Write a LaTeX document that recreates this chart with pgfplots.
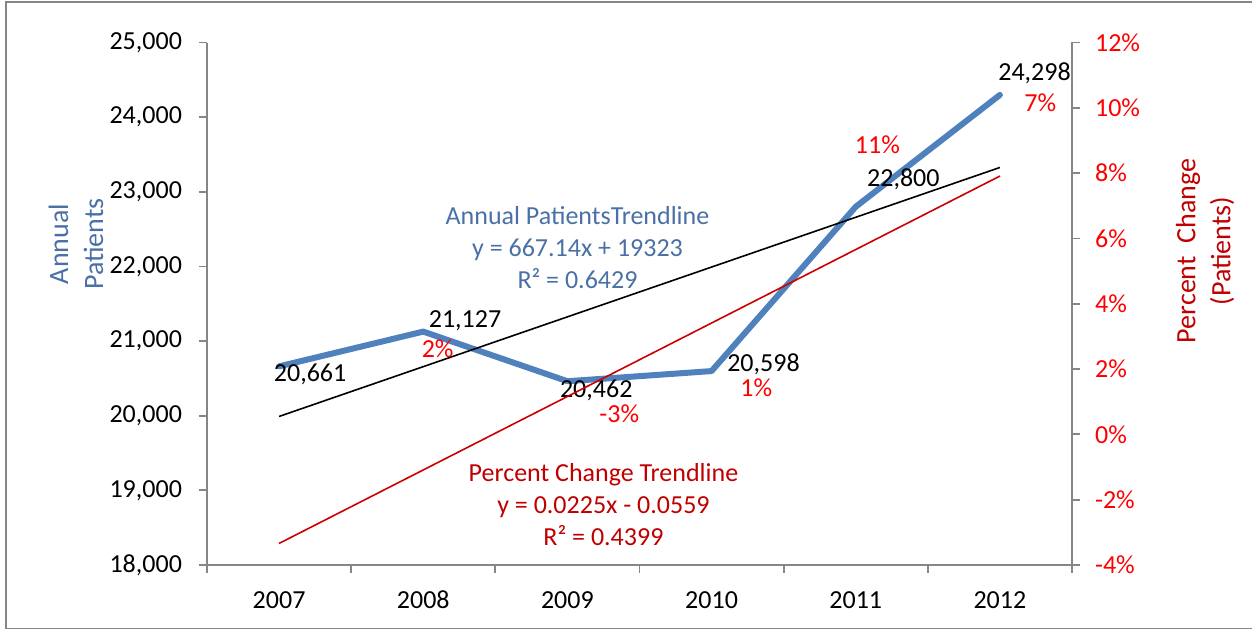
\documentclass[border=0pt]{standalone}
\usepackage{fontspec}
\setmainfont{Carlito}
\usepackage{pgfplots}
\pgfplotsset{compat=1.18}
\definecolor{axisgray}{RGB}{134,134,134}
\definecolor{patblue}{RGB}{79,129,189}
\definecolor{labblue}{RGB}{74,112,165}
\definecolor{darkred}{RGB}{192,0,0}
\definecolor{trendred}{RGB}{204,0,0}
\tikzset{lab/.style={inner sep=0.5pt}}
\begin{document}
\begin{tikzpicture}[font=\fontsize{13}{16}\selectfont]
\useasboundingbox (-103.5pt,-32.5pt) rectangle (522.5pt,282.5pt);
% chart frame
\draw[axisgray, line width=0.8pt] (540pt,281.5pt) -- (-100.5pt,281.5pt) -- (-100.5pt,-31.75pt) -- (540pt,-31.75pt);

\pgfplotsset{
  common/.style={
    scale only axis, width=432.5pt, height=261.25pt,
    at={(0,0)}, anchor=south west,
    xmin=-0.5, xmax=5.5,
    axis line style={axisgray, line width=0.9pt, -},
    tick align=outside,
    major tick length=4pt, minor tick length=4pt,
    ticklabel style={font=\fontsize{13}{16}\selectfont},
    scaled ticks=false,
    clip=false,
  },
}

\begin{axis}[
  common,
  ymin=18000, ymax=25000,
  axis x line*=bottom, axis y line*=left,
  xtick={0,1,2,3,4,5},
  xticklabels={2007,2008,2009,2010,2011,2012},
  minor xtick={-0.5,0.5,1.5,2.5,3.5,4.5,5.5},
  major x tick style={draw=none},
  minor x tick style={axisgray, line width=0.9pt},
  ytick={18000,19000,20000,21000,22000,23000,24000,25000},
  yticklabels={{18,000},{19,000},{20,000},{21,000},{22,000},{23,000},{24,000},{25,000}},
  y tick style={axisgray, line width=0.9pt},
  yticklabel style={xshift=-5pt},
  xticklabel style={yshift=-5pt, text height=9pt, text depth=0pt},
]
% annual patients
\addplot[patblue, line width=3pt, line join=round, line cap=round] coordinates {
  (0,20661) (1,21127) (2,20462) (3,20598) (4,22800) (5,24298)
};
% linear trendline y = 667.14x + 19323
\addplot[black, line width=0.8pt] coordinates {
  (0,19990.14) (5,23325.84)
};
% data labels
\node[lab] at (axis cs:0.215,20557) {20,661};
\node[lab] at (axis cs:1.29,21279) {21,127};
\node[lab] at (axis cs:2.20,20342) {20,462};
\node[lab] at (axis cs:3.36,20690) {20,598};
\node[lab] at (axis cs:4.33,23167) {22,800};
\node[lab] at (axis cs:5.24,24585) {24,298};
\node[lab, text=red] at (axis cs:1.10,20900) {2\%};
\node[lab, text=red] at (axis cs:2.36,20021) {-3\%};
\node[lab, text=red] at (axis cs:3.31,20380) {1\%};
\node[lab, text=red] at (axis cs:4.15,23635) {11\%};
\node[lab, text=red] at (axis cs:5.28,24197) {7\%};
% trendline equations
\node[text=labblue, align=center] at (axis cs:2.07,22256)
  {Annual PatientsTrendline\\y = 667.14x + 19323\\R² = 0.6429};
\node[text=darkred, align=center] at (axis cs:2.25,18803)
  {Percent Change Trendline\\y = 0.0225x - 0.0559\\R² = 0.4399};
\end{axis}

\begin{axis}[
  common,
  ymin=-0.04, ymax=0.12,
  axis x line=none, axis y line*=right,
  ytick={-0.04,-0.02,0,0.02,0.04,0.06,0.08,0.10,0.12},
  yticklabels={-4\%,-2\%,0\%,2\%,4\%,6\%,8\%,10\%,12\%},
  y tick style={axisgray, line width=0.9pt},
  yticklabel style={text=red, xshift=4pt},
]
% percent change trendline y = 0.0225x - 0.0559
\addplot[trendred, line width=0.8pt] coordinates {
  (0,-0.0334) (5,0.0791)
};
\end{axis}

% axis titles
\node[rotate=90, align=center, text=labblue, font=\fontsize{14}{17.5}\selectfont] at (-65.5pt,160.5pt) {Annual\\Patients};
\node[rotate=90, align=center, text=darkred, font=\fontsize{14}{17.5}\selectfont] at (499pt,157pt) {Percent\ \ Change\\(Patients)};
\end{tikzpicture}
\end{document}
